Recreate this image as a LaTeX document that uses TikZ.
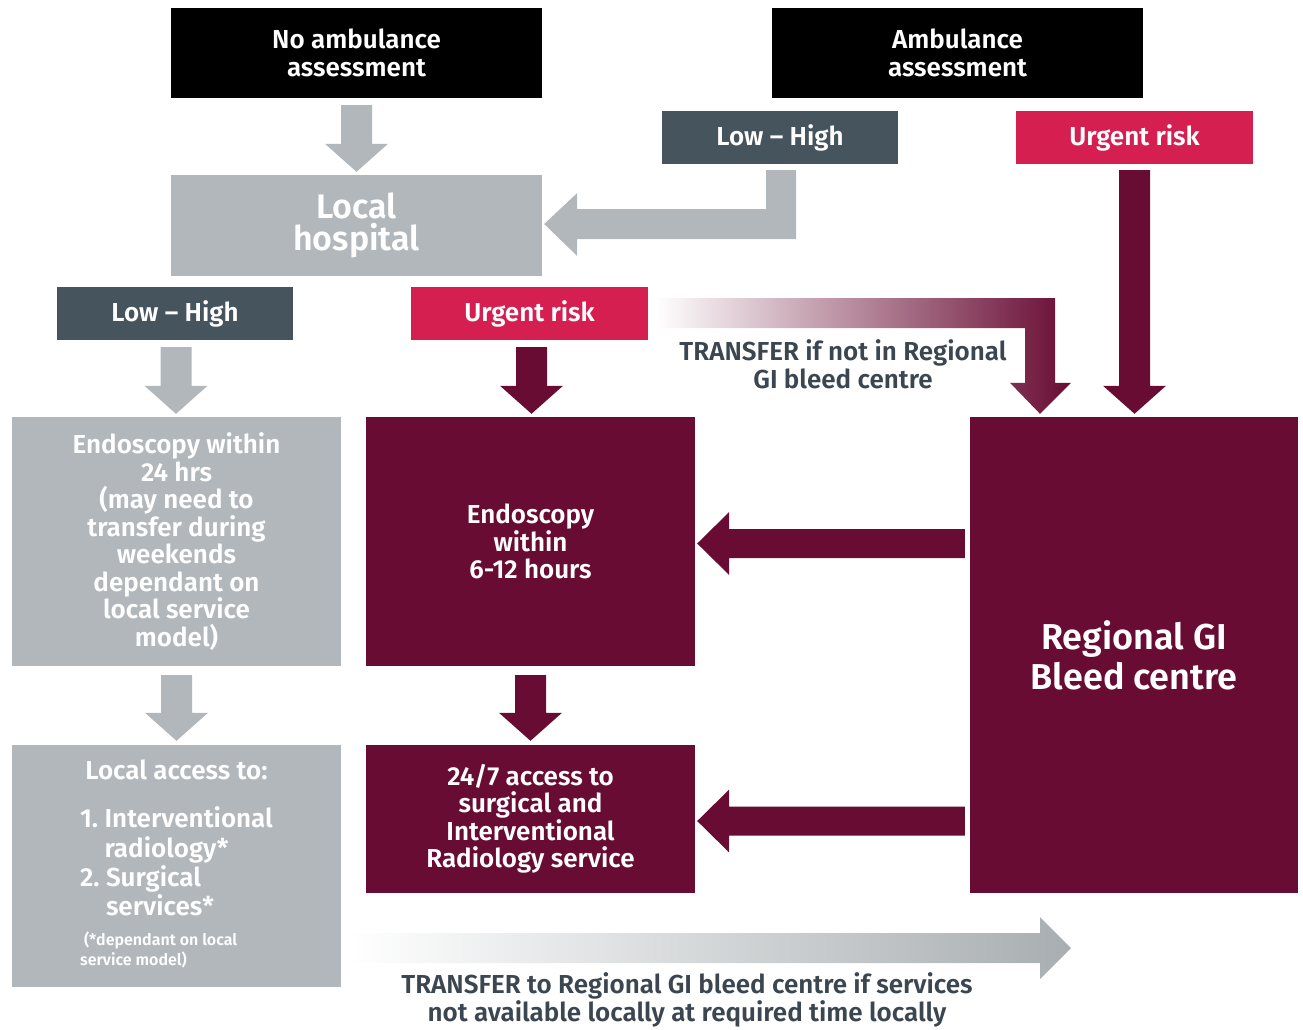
\documentclass[tikz,border=0pt]{standalone}
\usepackage{fontspec}
\setmainfont{Fira Sans SemiBold}
\usetikzlibrary{calc}
\definecolor{greyc}{HTML}{B1B7BA}
\definecolor{maroonc}{HTML}{680C33}
\definecolor{slatec}{HTML}{46545E}
\definecolor{crimsonc}{HTML}{D61F51}
\definecolor{darktext}{HTML}{3B4650}
\newcommand\dnarrow[3]{\fill[#1] let \p1=(#2), \p2=(#3) in
  (\x1-15.5pt,\y1) -- (\x1+15.5pt,\y1) -- (\x1+15.5pt,\y2+28pt) -- (\x1+31.5pt,\y2+28pt)
  -- (\x1,\y2) -- (\x1-31.5pt,\y2+28pt) -- (\x1-15.5pt,\y2+28pt) -- cycle;}
\newcommand\lfarrow[3]{\fill[#1] let \p1=(#2), \p2=(#3) in
  (\x1,\y1+14.5pt) -- (\x2+32pt,\y1+14.5pt) -- (\x2+32pt,\y1+31.5pt) -- (\x2,\y1)
  -- (\x2+32pt,\y1-31.5pt) -- (\x2+32pt,\y1-14.5pt) -- (\x1,\y1-14.5pt) -- cycle;}
\begin{document}
\begin{tikzpicture}[x=1pt,y=-1pt,
  box/.style={inner sep=0pt, align=center, text=white, font=\fontsize{26}{27.5}\selectfont},
  lbl/.style={inner sep=0pt, align=center, text=darktext, font=\fontsize{26}{28}\selectfont}]
\useasboundingbox (0,0) rectangle (1303,1029);
% boxes
\node[box, fill=black, minimum width=371pt, minimum height=90pt] (nla) at (356.5,53) {No ambulance\\assessment};
\node[box, fill=black, minimum width=371pt, minimum height=90pt] (amb) at (957.5,53) {Ambulance\\assessment};
\node[box, fill=slatec, minimum width=236pt, minimum height=53pt] (lhA) at (780,137.5) {Low -- High};
\node[box, fill=crimsonc, minimum width=237pt, minimum height=53pt] (urA) at (1134.5,137.5) {Urgent risk};
\node[box, fill=greyc, minimum width=371pt, minimum height=101pt, font=\fontsize{34}{32}\selectfont] (hosp) at (356.5,225.5) {Local\\hospital};
\node[box, fill=slatec, minimum width=236pt, minimum height=53pt] (lhB) at (175,313.5) {Low -- High};
\node[box, fill=crimsonc, minimum width=237pt, minimum height=53pt] (urB) at (529.5,313.5) {Urgent risk};
\node[box, fill=greyc, minimum width=329pt, minimum height=249pt] (e24) at (176.5,541.5)
  {Endoscopy within\\24 hrs\\(may need to\\transfer during\\weekends\\dependant on\\local service\\model)};
\node[box, fill=maroonc, minimum width=329pt, minimum height=249pt] (e6) at (530.5,541.5)
  {Endoscopy\\within\\6-12 hours};
\node[box, fill=maroonc, minimum width=328pt, minimum height=476pt, font=\fontsize{36}{40}\selectfont] (reg) at (1134,655)
  {Regional GI\\Bleed centre};
\node[box, fill=greyc, minimum width=329pt, minimum height=242pt] (loc) at (176.5,866)
  {\raisebox{-3pt}{\begin{tabular}{@{}l@{}}
   \multicolumn{1}{@{}c@{}}{Local access to:}\\[19pt]
   1.~Interventional\\
   \phantom{1.~}radiology*\\
   2.~Surgical\\
   \phantom{2.~}services*\\[3pt]
   {\fontsize{16}{20}\selectfont\begin{tabular}[t]{@{}l@{}}\ (*dependant on local\\service model)\end{tabular}}
   \end{tabular}}};
\node[box, fill=maroonc, minimum width=329pt, minimum height=148pt] (s247) at (530.5,819)
  {24/7 access to\\surgical and\\Interventional\\Radiology service};
% labels
\node[lbl] (t1) at (843,364) {TRANSFER if not in Regional\\GI bleed centre};
\node[lbl] (t2) at (687,1000) {TRANSFER to Regional GI bleed centre if services\\not available locally at required time locally};
% arrows
\dnarrow{greyc}{$(nla.south)+(0,7)$}{$(hosp.north)+(0,-3)$}
\dnarrow{maroonc}{$(urA.south)+(0,6)$}{$(reg.north)+(0,-3)$}
\dnarrow{greyc}{$(lhB.south)+(1,7)$}{$(e24.north)+(0,-3)$}
\dnarrow{maroonc}{$(urB.south)+(2,7)$}{$(e6.north)+(0,-3)$}
\dnarrow{greyc}{$(e24.south)+(0,9)$}{$(loc.north)+(0,-4)$}
\dnarrow{maroonc}{$(e6.south)+(0,9)$}{$(s247.north)+(0,-4)$}
\lfarrow{maroonc}{$(reg.west |- 0,543.5)+(-5,0)$}{$(e6.east)+(2,0)$}
\lfarrow{maroonc}{$(reg.west |- 0,821)+(-5,0)$}{$(s247.east)+(2,0)$}
% L-shaped grey arrow
\fill[greyc] let \p1=(lhA.south), \p2=($(hosp.east)+(2,-1.5)$) in
  (\x1-14pt,\y1-6pt) -- (\x1+16pt,\y1-6pt) -- (\x1+16pt,\y2-15pt) -- (\x2+33pt,\y2-15pt)
  -- (\x2+33pt,\y2-32pt) -- (\x2,\y2) -- (\x2+33pt,\y2+31pt) -- (\x2+33pt,\y2+15pt)
  -- (\x1-14pt,\y2+15pt) -- cycle;
% gradient L arrow
\coordinate (gA) at ($(urB.east)+(7,0)$);
\shade[left color=white, right color=maroonc] let \p1=(gA), \p2=($(reg.north)+(-94,-3)$) in
  (\x1,\y1+15.5pt) -- (\x2+15pt,\y1+15.5pt) -- (\x2+15pt,\y2+31pt) -- (\x2+31pt,\y2+31pt)
  -- (\x2,\y2) -- (\x2-30pt,\y2+31pt) -- (\x2-15pt,\y2+31pt) -- (\x2-15pt,\y1-14.5pt)
  -- (\x1,\y1-14.5pt) -- cycle;
% bottom gradient arrow
\coordinate (bA) at ($(loc.east |- 0,948)+(9,0)$);
\coordinate (bB) at (1071,948);
\shade[left color=white, right color=greyc!95!black] let \p1=(bA), \p2=(bB) in
  (\x1,\y1+15pt) -- (\x2-31pt,\y1+15pt) -- (\x2-31pt,\y1+31pt) -- (\x2,\y1)
  -- (\x2-31pt,\y1-31pt) -- (\x2-31pt,\y1-15pt) -- (\x1,\y1-15pt) -- cycle;
\end{tikzpicture}
\end{document}
